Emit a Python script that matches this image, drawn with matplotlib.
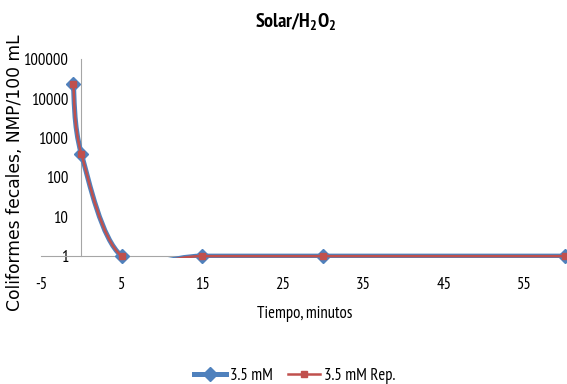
import numpy as np
import matplotlib.pyplot as plt
from matplotlib import font_manager as fm
from matplotlib.path import Path
from matplotlib.patches import PathPatch, Rectangle
from matplotlib.lines import Line2D

# datos
tiempo = [-1, 0, 5, 15, 30, 60]
serie_a = [23000, 400, 1, 1, 1, 1]
serie_b = [23000, 400, 1, 1, 1, 1]
nombres = ['3.5 mM', '3.5 mM Rep.']
xticks = [-5, 5, 15, 25, 35, 45, 55]
yticks = [1, 10, 100, 1000, 10000, 100000]

azul = '#4F81BD'
rojo = '#C0504D'

# fuente angosta parecida a Calibri comprimida
instaladas = set(f.name for f in fm.fontManager.ttflist)
candidatas = ['PT Sans Narrow', 'Roboto Condensed', 'Archivo Narrow', 'Carlito', 'Lato']
angosta = next((c for c in candidatas if c in instaladas), 'DejaVu Sans')
narrow = [angosta, 'DejaVu Sans']
plt.rcParams['mathtext.fontset'] = 'custom'
plt.rcParams['mathtext.rm'] = angosta
plt.rcParams['mathtext.bf'] = angosta + ':bold'


def curva_suave(x, y):
    # curva tipo Excel (bezier por tramos) en espacio log
    px = np.array(x, dtype=float)
    py = np.log10(np.array(y, dtype=float))
    n = len(px)
    verts = [(px[0], 10 ** py[0])]
    codes = [Path.MOVETO]
    for i in range(n - 1):
        i0 = max(i - 1, 0)
        i3 = min(i + 2, n - 1)
        c1x = px[i] + (px[i + 1] - px[i0]) / 6
        c1y = py[i] + (py[i + 1] - py[i0]) / 6
        c2x = px[i + 1] - (px[i3] - px[i]) / 6
        c2y = py[i + 1] - (py[i3] - py[i]) / 6
        verts += [(c1x, 10 ** c1y), (c2x, 10 ** c2y), (px[i + 1], 10 ** py[i + 1])]
        codes += [Path.CURVE4] * 3
    return Path(verts, codes)


fig = plt.figure(figsize=(5.67, 3.84), dpi=100)
ax = fig.add_axes([0.0723, 0.333, 0.924, 0.513])
ax.set_yscale('log')
ax.set_xlim(-5, 60)
ax.set_ylim(1, 100000)

for s in ['top', 'right']:
    ax.spines[s].set_visible(False)
ax.spines['bottom'].set_color('#A6A6A6')
ax.spines['left'].set_color('#A6A6A6')
ax.spines['left'].set_position(('data', 0))

# recorte un poco por debajo del eje, como en Excel
recorte = Rectangle((-0.01, -0.012), 1.05, 1.05, transform=ax.transAxes)

for serie, color, lw, mk, ms, z in [(serie_a, azul, 3.6, 'D', 7.5, 3),
                                    (serie_b, rojo, 1.8, 's', 5, 5)]:
    p = PathPatch(curva_suave(tiempo, serie), fill=False, ec=color, lw=lw, zorder=z)
    ax.add_patch(p)
    p.set_clip_path(recorte)
    ax.plot(tiempo, serie, ls='none', marker=mk, ms=ms, color=color, zorder=z + 1, clip_on=False)

ax.set_xticks(xticks)
ax.set_xticklabels([str(t) for t in xticks], family=narrow, fontsize=12)
ax.set_yticks(yticks)
ax.set_yticklabels([str(t) for t in yticks], family=narrow, fontsize=12)
ax.minorticks_off()
ax.tick_params(axis='both', length=0)
ax.tick_params(axis='x', pad=15)
ax.tick_params(axis='y', pad=9.5)

fig.text(0.538, 0.182, 'Tiempo, minutos', ha='center', va='center',
         family=narrow, fontsize=12)
fig.text(0.027, 0.549, 'Coliformes fecales, NMP/100 mL', rotation=90,
         ha='center', va='center', fontsize=12.3, family='DejaVu Sans')
fig.text(0.521, 0.945, r'$\mathbf{Solar/H_2O_2}$', ha='center', va='center',
         fontsize=14.5)

handles = [Line2D([], [], color=azul, lw=3.6, marker='D', ms=7.5),
           Line2D([], [], color=rojo, lw=1.8, marker='s', ms=5)]
fig.legend(handles, nombres, loc='center', bbox_to_anchor=(0.52, 0.02), ncol=2,
           frameon=False, prop={'family': narrow, 'size': 12},
           handlelength=1.9, handletextpad=0.25, columnspacing=0.9)

fig.savefig('out.png', dpi=100)
